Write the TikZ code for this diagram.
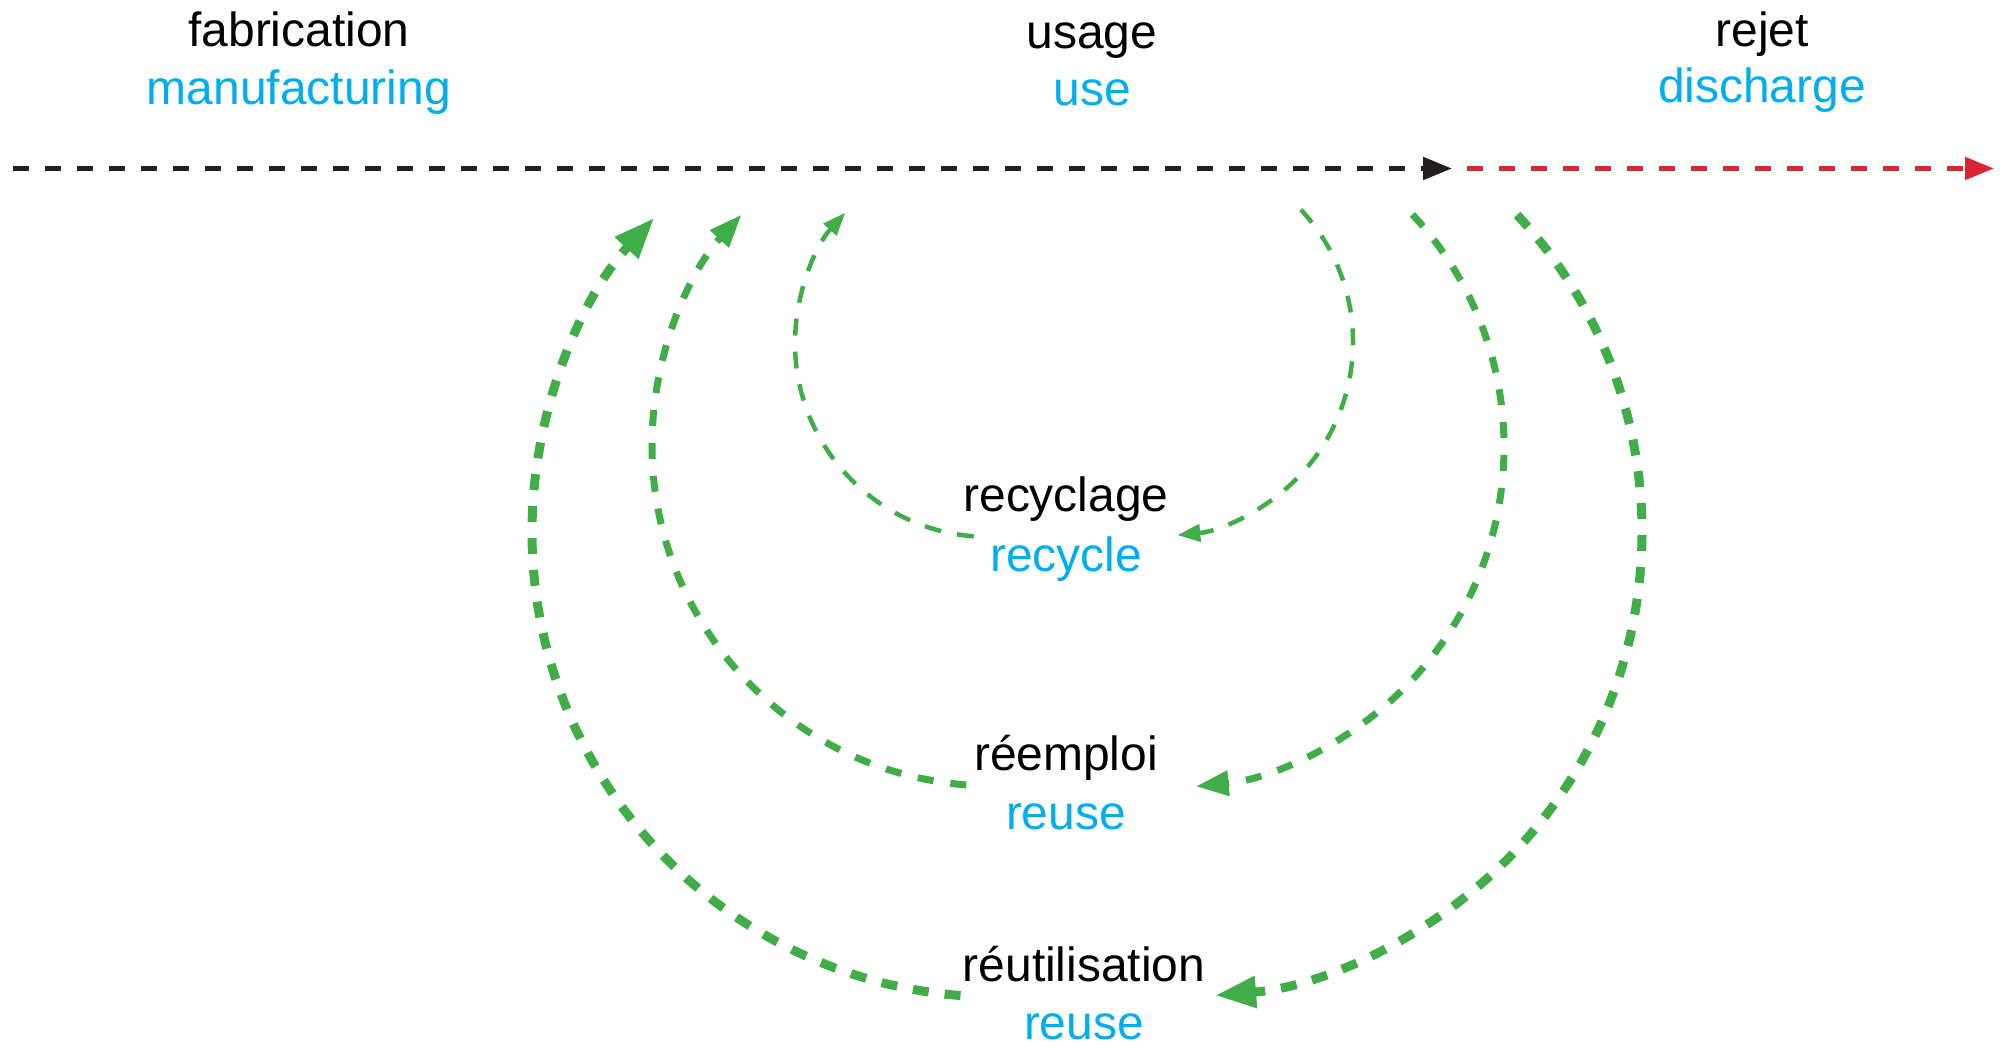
\documentclass[tikz,border=0pt]{standalone}
\usepackage{fontspec}
\setmainfont{Liberation Sans}
\usetikzlibrary{arrows.meta}

\definecolor{lineblack}{HTML}{231F20}
\definecolor{rejectred}{HTML}{D62631}
\definecolor{loopgreen}{HTML}{40AD48}
\definecolor{enblue}{HTML}{00AEEF}

\tikzset{
  frlabel/.style={anchor=base, inner sep=0pt, text=black, font=\fontsize{27.3}{33}\selectfont},
  enlabel/.style={frlabel, text=enblue},
  flowline/.style={line width=0.1cm, dash pattern=on 0.32cm off 0.32cm, -{Triangle[length=0.58cm,width=0.44cm]}},
  outerloop/.style={loopgreen, line width=0.18cm, dash pattern=on 0.32cm off 0.32cm, -{Triangle[length=0.82cm,width=0.6cm]}},
  middleloop/.style={loopgreen, line width=0.14cm, dash pattern=on 0.32cm off 0.34cm, -{Triangle[length=0.66cm,width=0.48cm]}},
  innerloop/.style={loopgreen, line width=0.09cm, dash pattern=on 0.34cm off 0.32cm, -{Triangle[length=0.46cm,width=0.34cm]}}
}

\begin{document}
\begin{tikzpicture}
	\useasboundingbox (0,0) rectangle (40.04,-20.94);
	% life line
	\coordinate (lifeStart) at (0.26,-3.37);
	\coordinate (useEnd) at (29.04,-3.37);
	\coordinate (rejStart) at (29.34,-3.37);
	\coordinate (rejEnd) at (39.88,-3.37);
	\draw[flowline, lineblack] (lifeStart) -- (useEnd);
	\draw[flowline, rejectred] (rejStart) -- (rejEnd);
	% stage labels
	\node[frlabel] (fab) at (5.98,-0.94) {fabrication};
	\node[enlabel] (fabEn) at (5.98,-2.10) {manufacturing};
	\node[frlabel] (usage) at (21.84,-0.97) {usage};
	\node[enlabel] (usageEn) at (21.84,-2.12) {use};
	\node[frlabel] (rejet) at (35.24,-0.94) {rejet};
	\node[enlabel] (rejetEn) at (35.24,-2.06) {discharge};
	% loop centres
	\coordinate (outerL) at (19.94,-10.64);
	\coordinate (outerR) at (23.54,-10.64);
	\coordinate (middleL) at (19.86,-8.90);
	\coordinate (middleR) at (23.26,-8.94);
	\coordinate (innerL) at (19.78,-6.86);
	\coordinate (innerR) at (23.18,-6.84);
	% loops
	\draw[outerloop] (outerL) ++(265.5:9.3) arc[start angle=265.5, end angle=137.5, radius=9.3];
	\draw[outerloop] (outerR) ++(43:9.3) arc[start angle=43, end angle=-85.3, radius=9.3];
	\draw[middleloop] (middleL) ++(265.5:6.82) arc[start angle=265.5, end angle=137.5, radius=6.82];
	\draw[middleloop] (middleR) ++(43:6.82) arc[start angle=43, end angle=-84.5, radius=6.82];
	\draw[innerloop] (innerL) ++(265.5:3.88) arc[start angle=265.5, end angle=137.8, radius=3.88];
	\draw[innerloop] (innerR) ++(43:3.88) arc[start angle=43, end angle=-84.6, radius=3.88];
	% loop labels
	\node[frlabel] (recyclage) at (21.32,-10.24) {recyclage};
	\node[enlabel] (recycle) at (21.32,-11.42) {recycle};
	\node[frlabel] (reemploi) at (21.32,-15.40) {réemploi};
	\node[enlabel] (reuseA) at (21.32,-16.58) {reuse};
	\node[frlabel] (reutil) at (21.68,-19.62) {réutilisation};
	\node[enlabel] (reuseB) at (21.68,-20.78) {reuse};
\end{tikzpicture}
\end{document}
